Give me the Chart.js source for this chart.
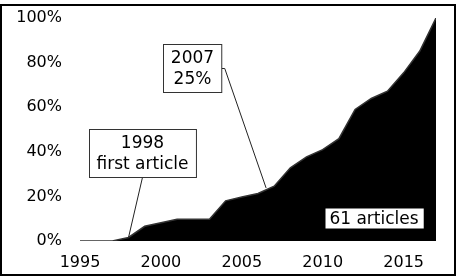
<!DOCTYPE html>
<html>
<head>
<meta charset="utf-8">
<script src="https://cdn.jsdelivr.net/npm/chart.js@4/dist/chart.umd.min.js"></script>
<style>
  body { margin: 0; background: #fff; }
  #wrap { position: relative; width: 456px; height: 276px; }
  #frame { position: absolute; left: 0px; top: 4px; width: 452px; height: 268px; border: 2px solid #000; pointer-events: none; }
</style>
</head>
<body>
<div id="wrap">
  <canvas id="chart" width="456" height="276"></canvas>
  <div id="frame"></div>
</div>
<script>
// cumulative share of the 61 articles, per year
const years = [1995, 1996, 1997, 1998, 1999, 2000, 2001, 2002, 2003, 2004, 2005, 2006,
  2007, 2008, 2009, 2010, 2011, 2012, 2013, 2014, 2015, 2016, 2017];
const share = [0, 0, 0, 1.6, 6.6, 8.2, 9.8, 9.8, 9.8, 18.0, 19.7, 21.3,
  24.6, 32.8, 37.7, 41.0, 45.9, 59.0, 63.9, 67.2, 75.4, 85.2, 100];
const yearTicks = [1995, 2000, 2005, 2010, 2015];
const pctTicks = [0, 20, 40, 60, 80, 100];

const FONT = "DejaVu Sans, Verdana, sans-serif";

// callout boxes, placed in data units
const notes = [
  { lines: ["1998", "first article"], x: 1998.86, y: 39.5, to: [1998, 1.6], from: "bottom", border: true },
  { lines: ["2007", "25%"], x: 2001.95, y: 77.8, to: [2006.5, 23.8], from: "right", border: true },
  { lines: ["61 articles"], x: 2013.17, y: 10.3, border: false }
];

const callouts = {
  id: "callouts",
  afterDraw(chart) {
    const ctx = chart.ctx;
    const xs = chart.scales.x, ys = chart.scales.y;
    ctx.save();
    ctx.font = "17px " + FONT;
    ctx.textAlign = "center";
    ctx.textBaseline = "middle";
    notes.forEach(n => {
      const cx = xs.getPixelForValue(n.x), cy = ys.getPixelForValue(n.y);
      const w = Math.max(...n.lines.map(t => ctx.measureText(t).width)) + (n.border ? 15 : 9);
      const lh = 21;
      const h = n.lines.length * lh + (n.border ? 6 : -1);
      const l = Math.round(cx - w / 2) + 0.5, t = Math.round(cy - h / 2) + 0.5;
      if (n.to) {
        const tx = xs.getPixelForValue(n.to[0]), ty = ys.getPixelForValue(n.to[1]);
        ctx.strokeStyle = "#222";
        ctx.lineWidth = 1;
        ctx.beginPath();
        if (n.from === "bottom") {
          ctx.moveTo(cx, t + h);
        } else {
          ctx.moveTo(l + w, t + h / 2);
          ctx.lineTo(l + w + 3, t + h / 2);
        }
        ctx.lineTo(tx, ty);
        ctx.stroke();
      }
      ctx.fillStyle = "#fff";
      ctx.fillRect(l, t, w, h);
      if (n.border) {
        ctx.strokeStyle = "#333";
        ctx.strokeRect(l, t, w, h);
      }
      ctx.fillStyle = "#000";
      n.lines.forEach((s, i) => {
        ctx.fillText(s, cx, t + h / 2 + (i - (n.lines.length - 1) / 2) * lh + 1);
      });
    });
    ctx.restore();
  }
};

new Chart(document.getElementById("chart"), {
  type: "line",
  data: {
    datasets: [{
      data: years.map((yr, i) => ({ x: yr, y: share[i] })),
      borderColor: "#333",
      borderWidth: 1.5,
      backgroundColor: "#000",
      fill: "origin",
      pointRadius: 0,
      tension: 0
    }]
  },
  options: {
    responsive: false,
    animation: false,
    devicePixelRatio: 1,
    layout: { padding: { left: 0, right: 20, top: 18, bottom: 0 } },
    plugins: { legend: { display: false }, tooltip: { enabled: false } },
    scales: {
      x: {
        type: "linear",
        min: 1995,
        max: 2017,
        grid: { display: false, drawTicks: false },
        border: { display: false },
        afterBuildTicks: s => { s.ticks = yearTicks.map(v => ({ value: v })); },
        afterFit: s => { s.height = 35; s.paddingLeft = 0; s.paddingRight = 0; },
        ticks: { color: "#000", padding: 12, maxRotation: 0, font: { family: FONT, size: 16 }, callback: v => String(v) }
      },
      y: {
        min: 0,
        max: 100,
        grid: { display: false, drawTicks: false },
        border: { display: false },
        afterBuildTicks: s => { s.ticks = pctTicks.map(v => ({ value: v })); },
        afterFit: s => { s.width = 80; s.paddingTop = 0; s.paddingBottom = 0; },
        ticks: { color: "#000", padding: 18, font: { family: FONT, size: 16 }, callback: v => v + "%" }
      }
    }
  },
  plugins: [callouts]
});
</script>
</body>
</html>
